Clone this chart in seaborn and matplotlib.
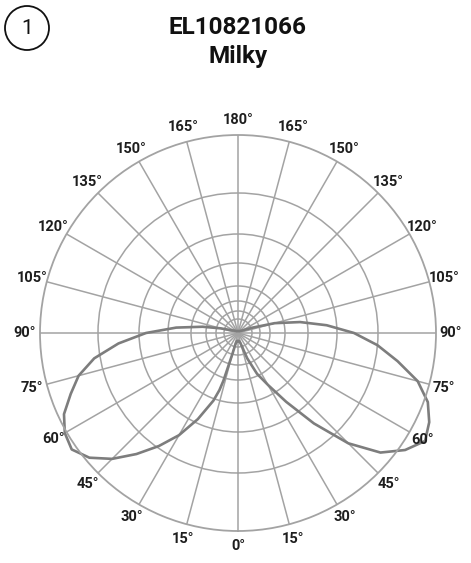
import numpy as np
import matplotlib.pyplot as plt
import matplotlib.patches as mpatches
import seaborn as sns

# polar intensity diagram, 0 deg points down
gamma = [0, 5, 10, 13, 15, 17, 18, 20, 25, 30, 35, 40, 45, 50, 55, 60, 65, 70,
         75, 80, 85, 90, 95, 100, 105, 110, 115, 120, 135, 150, 165, 180]
right_plane = [8, 8, 9, 10, 12, 15, 18, 27, 45, 60, 84, 118, 156, 186, 204, 216, 211, 202,
               186, 162, 140, 116, 89, 63, 38, 16, 8, 5, 3, 2, 2, 2]
left_plane = [8, 8, 9, 12, 22, 50, 60, 72, 95, 118, 138, 158, 178, 194, 203, 200, 192, 178,
              165, 146, 120, 92, 62, 36, 18, 9, 6, 5, 3, 2, 2, 2]

grid_circles = [14, 22, 32, 47, 70, 99, 140]
r_outer = 198
spoke_angles = list(range(0, 360, 15))
label_angles = list(range(0, 195, 15))

title_code = "EL10821066"
title_name = "Milky"
badge = "1"

sns.set_theme(style="white")
plt.rcParams['font.family'] = ['Roboto', 'DejaVu Sans']

W, H = 471, 563
fig = plt.figure(figsize=(W / 100, H / 100), dpi=100)
cx, cy, R = 238, 333, r_outer
ax = fig.add_axes([(cx - R) / W, (H - cy - R) / H, 2 * R / W, 2 * R / H], projection='polar')
ax.set_theta_zero_location('S')
ax.set_theta_direction(1)
ax.set_ylim(0, r_outer)

grid_col = '#a3a3a3'
ax.set_xticks(np.deg2rad(spoke_angles))
ax.set_xticklabels([])
ax.set_yticks(grid_circles)
ax.set_yticklabels([])
ax.grid(True, color=grid_col, linewidth=1.1)
ax.spines['polar'].set_color(grid_col)
ax.spines['polar'].set_linewidth(1.3)
ax.tick_params(length=0)

# right half: theta = gamma, left half mirrored
theta = np.deg2rad(np.concatenate([gamma, 360 - np.array(gamma[::-1])]))
r = np.concatenate([right_plane, left_plane[::-1]])
sns.lineplot(x=theta, y=r, ax=ax, sort=False, estimator=None,
             color='#7d7d7d', linewidth=1.9)
for ln in ax.lines:
    ln.set_clip_on(False)

label_r = 213
for a in label_angles:
    for side in ([a] if a in (0, 180) else [a, 360 - a]):
        ax.text(np.deg2rad(side), label_r, f"{a}°", ha='center', va='center',
                fontsize=10.5, fontweight='bold', color='#1e1e1e', clip_on=False)

fig.text(238 / W, 1 - 34.5 / H, title_code, ha='center', va='baseline',
         fontsize=17.5, fontweight='bold', color='#111111')
fig.text(238 / W, 1 - 62.5 / H, title_name, ha='center', va='baseline',
         fontsize=17.5, fontweight='bold', color='#111111')

fig.patches.append(mpatches.Ellipse((27 / W, 1 - 28 / H), 44 / W, 44 / H, transform=fig.transFigure,
                                    fill=False, edgecolor='#111111', linewidth=1.3))
fig.text(27 / W, 1 - 28 / H, badge, ha='center', va='center', fontsize=15, color='#111111')

fig.savefig('out.png', dpi=100)
